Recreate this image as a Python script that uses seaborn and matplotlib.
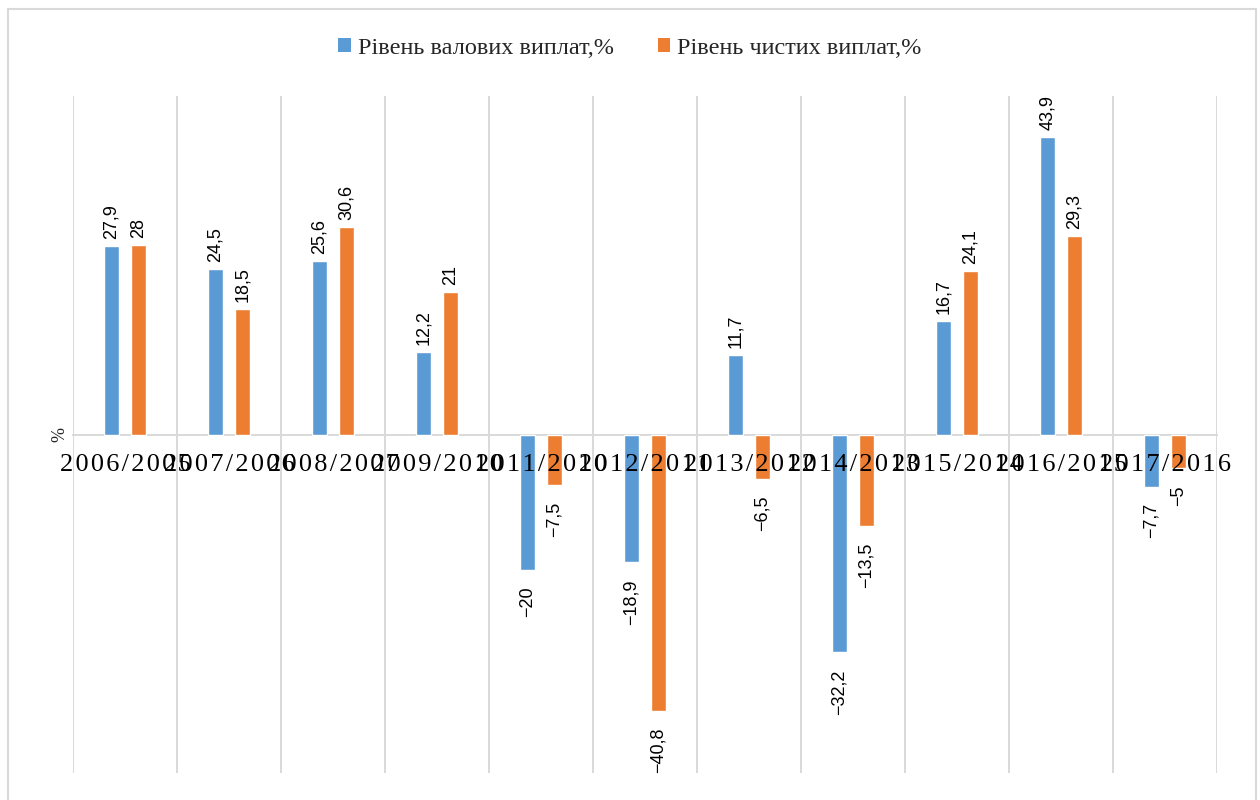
import matplotlib
matplotlib.use("Agg")
import matplotlib.pyplot as plt
import seaborn as sns
import pandas as pd
from matplotlib.patches import Rectangle, Patch

# Year-over-year change of insurance payouts, %
periods = ["2006/2005", "2007/2006", "2008/2007", "2009/2010", "2011/2010",
           "2012/2011", "2013/2012", "2014/2013", "2015/2014", "2016/2015",
           "2017/2016"]
gross = [27.9, 24.5, 25.6, 12.2, -20, -18.9, 11.7, -32.2, 16.7, 43.9, -7.7]
net = [28, 18.5, 30.6, 21, -7.5, -40.8, -6.5, -13.5, 24.1, 29.3, -5]
series_names = ["Рівень валових виплат,%", "Рівень чистих виплат,%"]
colors = ["#5B9BD5", "#ED7D31"]

sns.set_theme(style="white")
plt.rcParams["font.family"] = ["Liberation Sans", "DejaVu Sans"]

df = pd.DataFrame({
    "period": periods * 2,
    "value": gross + net,
    "series": [series_names[0]] * len(periods) + [series_names[1]] * len(periods),
})

fig = plt.figure(figsize=(12.6, 8), dpi=100)
ax = fig.add_axes([73 / 1260, 1 - 773 / 800, (1217 - 73) / 1260, (773 - 96) / 800])

sns.barplot(data=df, x="period", y="value", hue="series", palette=colors,
            width=0.52, gap=0.45, saturation=1, errorbar=None, legend=False, ax=ax)

ax.set_xlim(-0.5, len(periods) - 0.5)
ax.set_ylim(-50, 50)
ax.set_xlabel("")
ax.set_ylabel("")
ax.set_yticks([])

# Category separators
ax.set_xticks([i - 0.5 for i in range(len(periods) + 1)], minor=True)
ax.grid(which="minor", axis="x", color="#D9D9D9", linewidth=1.4)
ax.grid(which="major", visible=False)
ax.tick_params(which="both", length=0)

for side in ["top", "right", "left"]:
    ax.spines[side].set_visible(False)
ax.spines["bottom"].set_position(("data", 0))
ax.spines["bottom"].set_color("#D9D9D9")
ax.spines["bottom"].set_linewidth(1.4)
ax.spines["bottom"].set_zorder(0.5)
for p in ax.patches:
    p.set_zorder(2)
# Period labels are written over the bars
ax.set_axisbelow(False)

# Letter-spaced period labels sitting under the zero line
spaced = ["\u200a".join(list(p)) for p in periods]
ax.set_xticks(range(len(periods)))
ax.set_xticklabels(spaced, fontfamily="Liberation Serif", fontsize=19,
                   color="#000000")
ax.tick_params(axis="x", pad=14)


def fmt(v):
    return f"{v:g}".replace(".", ",").replace("-", "\u2212")


for cont, vals in zip(ax.containers, [gross, net]):
    ax.bar_label(cont, labels=[fmt(v) if v >= 0 else "" for v in vals],
                 rotation=90, padding=5, fontsize=13, color="#000000")
    ax.bar_label(cont, labels=[fmt(v) if v < 0 else "" for v in vals],
                 rotation=90, padding=12, fontsize=13, color="#000000")

fig.text(60 / 1260, 1 - 435 / 800, "%", rotation=90, ha="center", va="center",
         fontfamily="Liberation Serif", fontsize=13)

handles = [Patch(facecolor=c, edgecolor="none") for c in colors]
fig.legend(handles, series_names, loc="center", bbox_to_anchor=(0.5, 1 - 48 / 800),
           ncol=2, frameon=False, prop={"family": "Liberation Serif", "size": 17.5},
           handlelength=0.5, handleheight=0.5, handletextpad=0.3,
           columnspacing=1.8)

fig.patches.append(Rectangle((8 / 1260, -0.05), (1256 - 8) / 1260, 1.05 - 9 / 800,
                             transform=fig.transFigure, fill=False,
                             edgecolor="#D9D9D9", linewidth=1.5))

fig.savefig("out.png", dpi=100, facecolor="white")
